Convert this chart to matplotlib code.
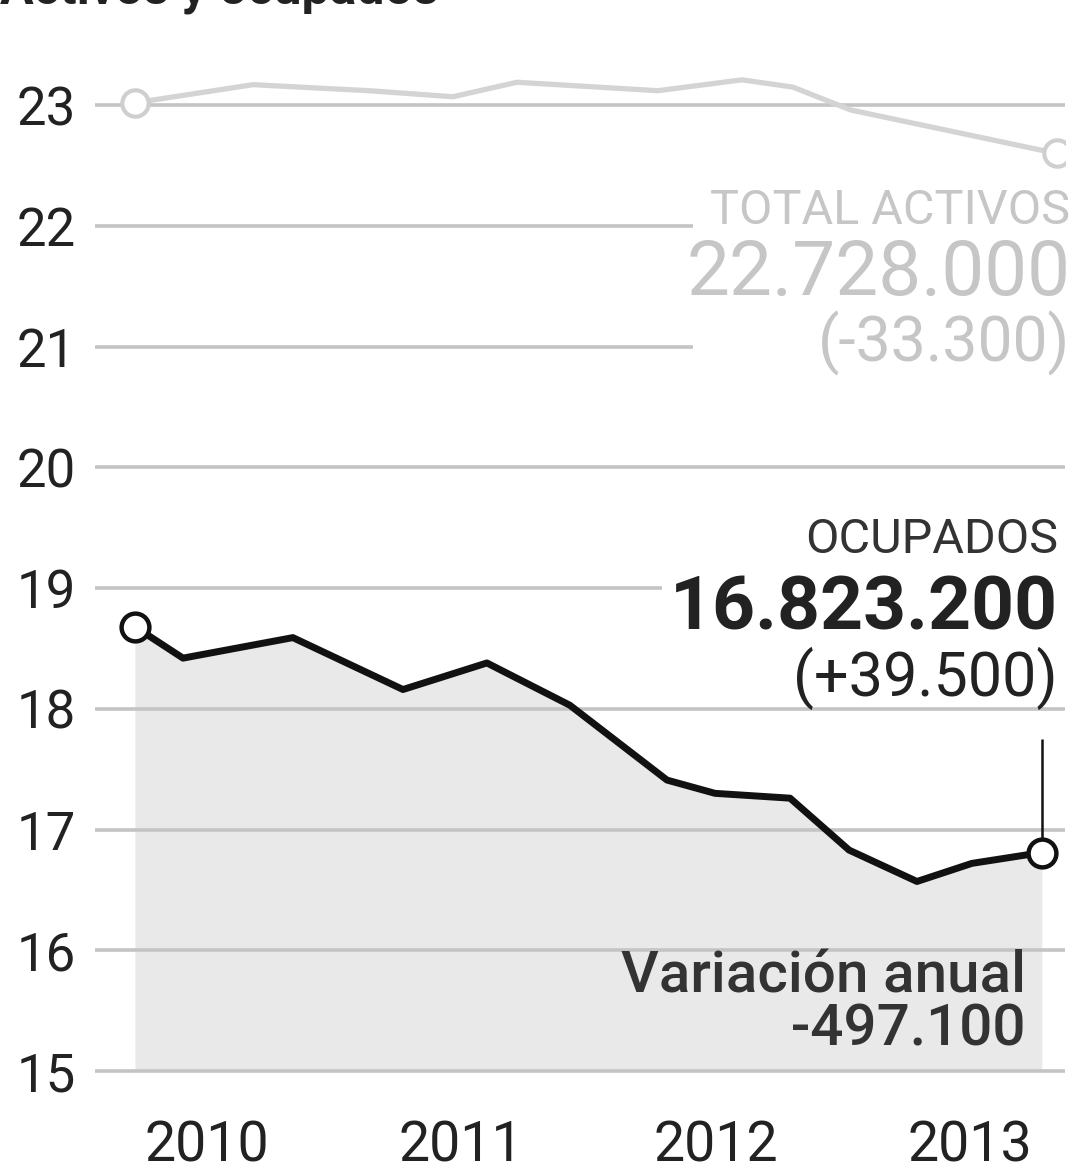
import matplotlib.pyplot as plt
from matplotlib.patches import Rectangle

# decimal years, values in millions
activos_x = [2010.217, 2010.681, 2011.137, 2011.467, 2011.719, 2012.273,
             2012.604, 2012.804, 2013.032, 2013.842]
activos_y = [23.02, 23.17, 23.12, 23.07, 23.19, 23.12, 23.21, 23.15, 22.96, 22.60]

ocupados_x = [2010.217, 2010.406, 2010.838, 2011.271, 2011.601, 2011.927,
              2012.309, 2012.498, 2012.793, 2013.025, 2013.292, 2013.508, 2013.783]
ocupados_y = [18.68, 18.42, 18.59, 18.16, 18.38, 18.03, 17.41, 17.30, 17.26,
              16.83, 16.57, 16.72, 16.81]

years = ["2010", "2011", "2012", "2013"]
y_ticks = [15, 16, 17, 18, 19, 20, 21, 22, 23]

FONT = ["Roboto", "DejaVu Sans"]
plt.rcParams['font.family'] = FONT


def main():
    fig = plt.figure(figsize=(10.88, 11.63), dpi=100)
    ax = fig.add_axes([95 / 1088, 1 - 1100 / 1163, 970 / 1088, 1060 / 1163])
    ax.set_xlim(2010.06, 2013.874)
    ax.set_ylim(14.76, 23.54)

    for v in y_ticks:
        ax.axhline(v, color='#c4c4c4', lw=2.6, zorder=2)

    # ocupados area + line
    ax.fill_between(ocupados_x, ocupados_y, 15, color='#e9e9e9', lw=0, zorder=1)
    ax.plot(ocupados_x, ocupados_y, color='#111111', lw=5, zorder=5,
            solid_joinstyle='round')
    ax.plot([ocupados_x[0], ocupados_x[-1]], [ocupados_y[0], ocupados_y[-1]], 'o',
            ms=20, mfc='white', mec='#111111', mew=3.2, zorder=6)
    ax.vlines(ocupados_x[-1], ocupados_y[-1], 17.75, color='#111111', lw=1.8, zorder=4)

    # total activos
    ax.plot(activos_x, activos_y, color='#d4d4d4', lw=3.8, zorder=3)
    ax.plot([activos_x[0], activos_x[-1]], [activos_y[0], activos_y[-1]], 'o',
            ms=19, mfc='white', mec='#cfcfcf', mew=3, zorder=4)

    # white block behind the activos labels
    ax.add_patch(Rectangle((2012.41, 20.9), 1.6, 1.4, facecolor='white',
                           edgecolor='none', zorder=6, clip_on=False))
    ax.text(2013.894, 22.12, "TOTAL ACTIVOS", ha='right', va='center', fontsize=35,
            color='#c6c6c6', zorder=7)
    ax.text(2013.894, 21.6, "22.728.000", ha='right', va='center', fontsize=55,
            color='#c6c6c6', zorder=7)
    ax.text(2013.894, 21.03, "(-33.300)", ha='right', va='center', fontsize=45,
            color='#c6c6c6', zorder=7)

    box = dict(facecolor='white', edgecolor='none', pad=6)
    ax.text(2013.846, 19.4, "OCUPADOS", ha='right', va='center', fontsize=35,
            color='#333333', bbox=box, zorder=7)
    ax.text(2013.846, 18.82, "16.823.200", ha='right', va='center', fontsize=54,
            fontweight='bold', color='#222222', bbox=box, zorder=7)
    ax.text(2013.846, 18.25, "(+39.500)", ha='right', va='center', fontsize=44,
            color='#222222', zorder=7)

    ax.text(2013.72, 15.56, "Variación anual\n-497.100", ha='right', va='center',
            fontsize=42, fontweight='medium', color='#333333', linespacing=0.95,
            zorder=7)

    ax.set_yticks(y_ticks)
    ax.set_yticklabels([str(v) for v in y_ticks])
    ax.set_xticks([int(y) + 0.5 for y in years])
    ax.set_xticklabels(years)
    ax.tick_params(axis='y', length=0, pad=14, labelsize=38, labelcolor='#222222')
    ax.tick_params(axis='x', length=0, pad=14, labelsize=40, labelcolor='#222222')
    for s in ax.spines.values():
        s.set_visible(False)

    # heading cut off at the very top of the picture
    fig.text(0.0, 1 - 3 / 1163, "Activos y ocupados", fontsize=36, fontweight='bold',
             color='#222222', va='baseline', ha='left')

    fig.savefig("out.png", dpi=100, facecolor='white')


if __name__ == "__main__":
    main()
